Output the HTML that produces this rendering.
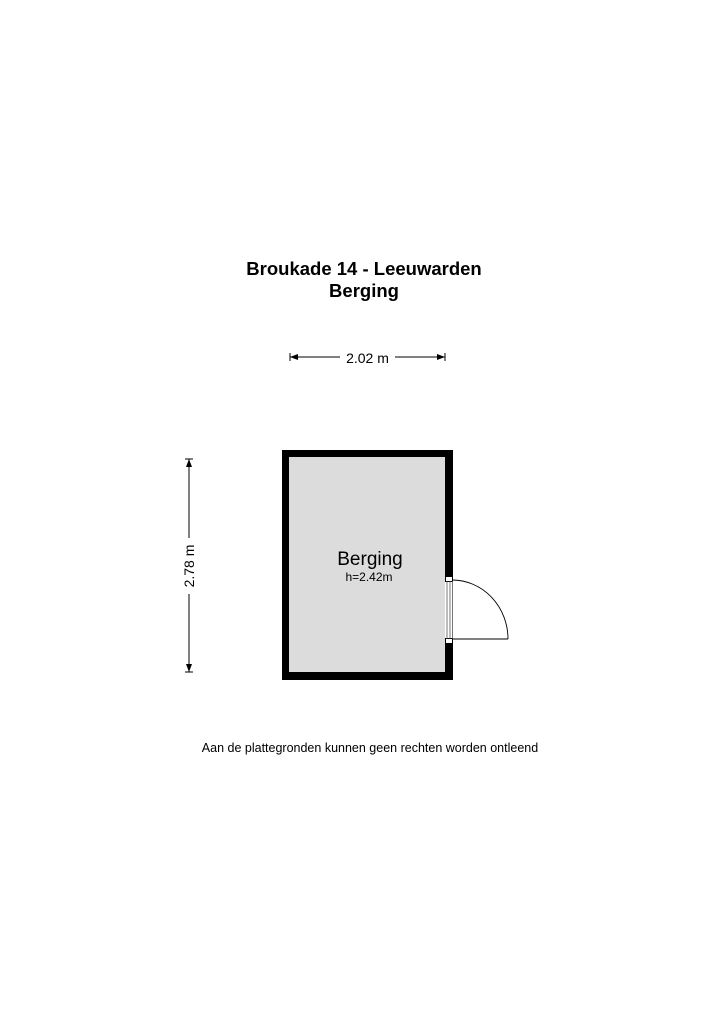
<!DOCTYPE html>
<html><head><meta charset="utf-8"><style>
html,body{margin:0;padding:0;background:#fff;}
svg{display:block;}
text{font-family:"Liberation Sans",Arial,sans-serif;fill:#000;}
</style></head><body>
<svg width="720" height="1017" viewBox="0 0 720 1017" xmlns="http://www.w3.org/2000/svg">
<text x="364" y="275" font-size="18.5" font-weight="bold" text-anchor="middle">Broukade 14 - Leeuwarden</text>
<text x="364" y="297" font-size="18.5" font-weight="bold" text-anchor="middle">Berging</text>
<!-- horizontal dim -->
<line x1="290" y1="357" x2="340" y2="357" stroke="#000" stroke-width="1"/>
<line x1="395" y1="357" x2="445" y2="357" stroke="#000" stroke-width="1"/>
<line x1="290" y1="353" x2="290" y2="361" stroke="#000" stroke-width="1"/>
<line x1="445" y1="353" x2="445" y2="361" stroke="#000" stroke-width="1"/>
<polygon points="290,357 298,354 298,360" fill="#000"/>
<polygon points="445,357 437,354 437,360" fill="#000"/>
<text x="367.5" y="363" font-size="14" text-anchor="middle">2.02 m</text>
<!-- vertical dim -->
<line x1="189" y1="459" x2="189" y2="538" stroke="#000" stroke-width="1"/>
<line x1="189" y1="594" x2="189" y2="672" stroke="#000" stroke-width="1"/>
<line x1="185" y1="459" x2="193" y2="459" stroke="#000" stroke-width="1"/>
<line x1="185" y1="672" x2="193" y2="672" stroke="#000" stroke-width="1"/>
<polygon points="189,459 186,467 192,467" fill="#000"/>
<polygon points="189,672 186,664 192,664" fill="#000"/>
<text x="0" y="0" font-size="14" text-anchor="middle" transform="translate(194,566) rotate(-90)">2.78 m</text>
<!-- room -->
<rect x="282" y="450" width="171" height="230" fill="#000"/>
<rect x="289" y="457" width="156" height="215" fill="#dcdcdc"/>
<!-- door opening -->
<rect x="445" y="576" width="8" height="68" fill="#fff"/>
<rect x="445.5" y="576.5" width="7" height="5" fill="#fff" stroke="#000" stroke-width="1"/>
<rect x="445.5" y="638.5" width="7" height="5" fill="#fff" stroke="#000" stroke-width="1"/>
<line x1="447" y1="581" x2="447" y2="639" stroke="#555" stroke-width="0.8"/>
<line x1="450" y1="581" x2="450" y2="639" stroke="#555" stroke-width="0.8"/>
<line x1="452.5" y1="581" x2="452.5" y2="639" stroke="#555" stroke-width="0.8"/>
<path d="M452 580 A56 59 0 0 1 508 639" fill="none" stroke="#000" stroke-width="0.9"/>
<line x1="452" y1="639" x2="508" y2="639" stroke="#000" stroke-width="0.9"/>
<text x="370" y="565" font-size="19" text-anchor="middle">Berging</text>
<text x="369" y="581" font-size="12" text-anchor="middle">h=2.42m</text>
<text x="370" y="752" font-size="12.5" text-anchor="middle">Aan de plattegronden kunnen geen rechten worden ontleend</text>
</svg>
</body></html>
